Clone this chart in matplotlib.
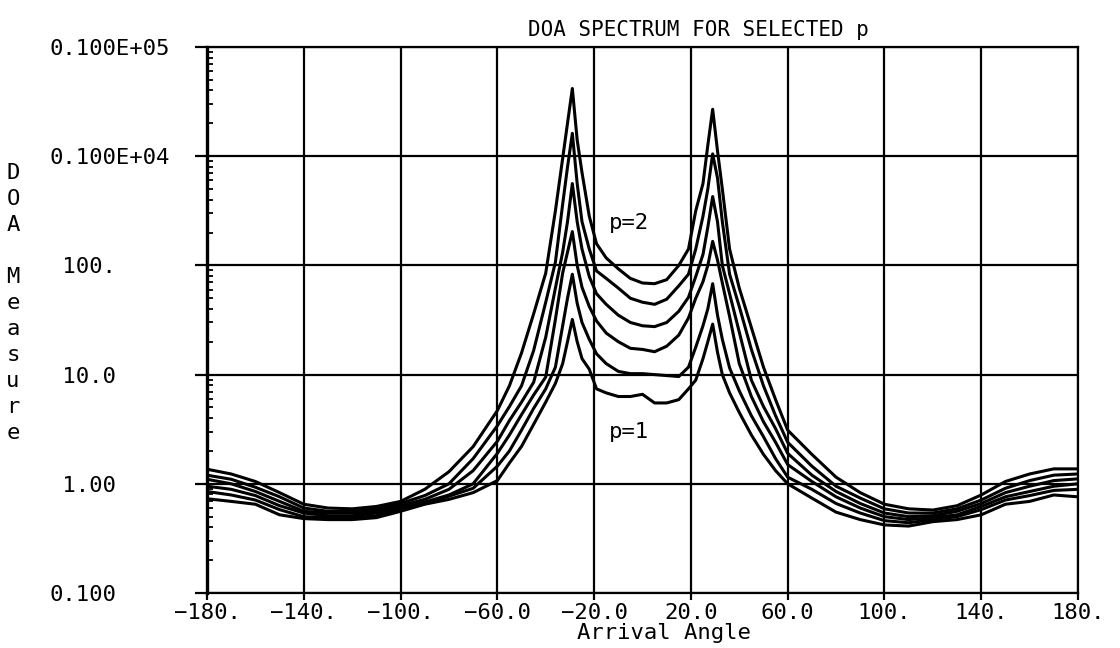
import matplotlib
matplotlib.use('Agg')
import matplotlib.pyplot as plt
import numpy as np
from matplotlib.ticker import LogLocator, NullFormatter, FixedLocator

angle = [-180, -170, -160, -150, -140, -130, -120, -110, -100, -90, -80, -70, -60,
         -55, -50, -45, -40, -36, -33, -31, -29, -27, -25, -22, -19, -15, -10, -5,
         0, 5, 10, 15, 19, 22, 25, 27, 29, 31, 33, 36, 40, 45, 50, 55,
         60, 70, 80, 90, 100, 110, 120, 130, 140, 150, 160, 170, 180]

# DOA measure, lowest curve (p=1) to highest (p=2)
doa_1 = [0.73, 0.69, 0.65, 0.52, 0.48, 0.47, 0.47, 0.49, 0.56, 0.65, 0.72, 0.83, 1.07,
         1.55, 2.2, 3.5, 5.6, 8.3, 12.6, 20, 32, 20, 14, 11.2, 7.4, 6.8, 6.3, 6.3,
         6.6, 5.5, 5.5, 5.9, 7.4, 8.9, 14, 20, 29, 16, 10, 6.8, 4.5, 2.8, 1.86, 1.32,
         1.0, 0.74, 0.55, 0.47, 0.42, 0.41, 0.45, 0.47, 0.52, 0.65, 0.69, 0.79, 0.76]
doa_2 = [0.85, 0.79, 0.71, 0.58, 0.50, 0.49, 0.49, 0.51, 0.58, 0.66, 0.77, 0.91, 1.45,
         2.0, 3.1, 4.9, 7.4, 11.7, 28, 50, 83, 45, 30, 21, 15.5, 12.6, 10.7, 10.2,
         10.2, 10.0, 9.8, 9.6, 11.7, 17.8, 28, 40, 68, 35, 21, 11.5, 7.1, 4.2, 2.7, 1.7,
         1.15, 0.89, 0.66, 0.54, 0.46, 0.44, 0.47, 0.50, 0.58, 0.71, 0.78, 0.87, 0.89]
doa_3 = [0.95, 0.89, 0.78, 0.63, 0.54, 0.51, 0.51, 0.54, 0.60, 0.68, 0.79, 1.0, 1.9,
         2.8, 4.3, 6.5, 9.5, 32, 85, 132, 204, 100, 63, 42, 31, 24, 20, 17.4,
         17, 16.2, 18.2, 23, 33, 50, 71, 100, 166, 112, 69, 34, 12.6, 6.3, 3.7, 2.4,
         1.5, 1.05, 0.76, 0.60, 0.50, 0.47, 0.49, 0.52, 0.62, 0.76, 0.85, 0.95, 1.0]
doa_4 = [1.10, 1.0, 0.85, 0.69, 0.56, 0.54, 0.54, 0.56, 0.63, 0.72, 0.89, 1.32, 2.45,
         3.8, 5.6, 8.5, 22, 62, 132, 251, 562, 251, 141, 79, 55, 44, 35, 30,
         28, 27.5, 30, 38, 51, 79, 126, 224, 427, 251, 100, 55, 24.5, 8.9, 5.1, 3.2,
         1.9, 1.2, 0.85, 0.66, 0.54, 0.50, 0.51, 0.56, 0.66, 0.83, 0.95, 1.07, 1.11]
doa_5 = [1.20, 1.10, 0.93, 0.76, 0.60, 0.56, 0.56, 0.59, 0.66, 0.78, 1.0, 1.70, 3.4,
         5.1, 7.9, 16.6, 46, 107, 363, 794, 1620, 562, 251, 141, 89, 76, 62, 50,
         46, 44, 49, 65, 83, 141, 282, 501, 1050, 631, 251, 83, 42, 17, 7.9, 4.2,
         2.4, 1.45, 0.95, 0.74, 0.59, 0.54, 0.54, 0.59, 0.71, 0.91, 1.07, 1.20, 1.23]
doa_6 = [1.36, 1.23, 1.05, 0.83, 0.65, 0.60, 0.59, 0.62, 0.69, 0.89, 1.29, 2.19, 4.68,
         7.9, 15.8, 36, 85, 316, 955, 2000, 4170, 1410, 708, 282, 158, 117, 93, 76,
         69, 68, 74, 100, 141, 316, 562, 1260, 2690, 1120, 500, 141, 62, 27, 11.7, 5.9,
         3.1, 1.86, 1.15, 0.83, 0.65, 0.59, 0.575, 0.63, 0.79, 1.05, 1.23, 1.37, 1.37]
curves = [doa_1, doa_2, doa_3, doa_4, doa_5, doa_6]

x_ticks = [-180, -140, -100, -60, -20, 20, 60, 100, 140, 180]
x_labels = ['\u2212180.', '\u2212140.', '\u2212100.', '\u221260.0', '\u221220.0',
            '20.0', '60.0', '100.', '140.', '180.']
y_ticks = [0.1, 1, 10, 100, 1000, 10000]
y_labels = ['0.100', ' 1.00', ' 10.0', ' 100.', '0.100E+04', '0.100E+05']

mono = 'DejaVu Sans Mono'
plt.rcParams['font.family'] = mono

fig = plt.figure(figsize=(11.2, 6.48), dpi=100)
ax = fig.add_axes([207/1120, 1 - 593/648, (1078 - 207)/1120, (593 - 47)/648])

for c in curves:
    ax.plot(angle, c, color='black', lw=2.2)

ax.set_yscale('log')
ax.set_xlim(-180, 180)
ax.set_ylim(0.1, 10000)

ax.xaxis.set_major_locator(FixedLocator(x_ticks))
ax.set_xticklabels(x_labels, fontsize=16)
ax.yaxis.set_major_locator(FixedLocator(y_ticks))
ax.set_yticklabels(y_labels, fontsize=16, ha='left')
ax.yaxis.set_minor_locator(LogLocator(base=10, subs=np.arange(2, 10)))
ax.yaxis.set_minor_formatter(NullFormatter())

ax.tick_params(axis='x', which='major', direction='out', length=5, width=1.6,
               pad=2, color='black')
ax.tick_params(axis='y', which='major', direction='out', length=8.6, width=1.6,
               pad=105, color='black')
ax.tick_params(axis='y', which='minor', direction='in', length=4.5, width=1.3)

ax.grid(True, which='major', color='black', lw=1.6)
for s in ax.spines.values():
    s.set_linewidth(1.6)
ax.spines['left'].set_linewidth(2.4)

ax.text(-14, 243, 'p=2', fontsize=16, ha='left', va='center')
ax.text(-14, 3.0, 'p=1', fontsize=16, ha='left', va='center')

fig.text(698/1120, 1 - 30/648, 'DOA SPECTRUM FOR SELECTED p', fontsize=15,
         ha='center', va='center')
fig.text(664/1120, 1 - 633/648, 'Arrival Angle', fontsize=16,
         ha='center', va='center')
fig.text(13/1120, 1 - 303/648, 'D\nO\nA\n \nM\ne\na\ns\nu\nr\ne', fontsize=16,
         ha='center', va='center', multialignment='center', linespacing=1.37)

fig.savefig('out.png', dpi=100)
